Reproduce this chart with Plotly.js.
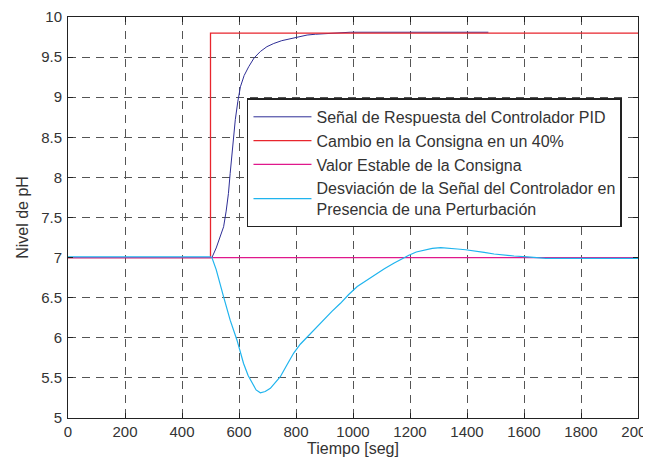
<!DOCTYPE html>
<html>
<head>
<meta charset="utf-8">
<script src="https://cdn.plot.ly/plotly-3.0.1.min.js"></script>
<style>
html,body{margin:0;padding:0;background:#fff;overflow:hidden;}
#chart{width:643px;height:462px;overflow:hidden;}
</style>
</head>
<body>
<div id="chart"></div>
<script>
// PID response (Señal de Respuesta del Controlador PID)
const pidT = [0, 500, 505, 520, 535, 546, 555, 563, 569, 575, 581, 587, 596, 605, 618, 634, 653, 675, 698, 722, 750, 780, 810, 839, 868, 897, 950, 990, 1475];
const pidY = [7, 7, 7.0, 7.12, 7.26, 7.385, 7.58, 7.8, 8.05, 8.3, 8.52, 8.72, 8.95, 9.13, 9.27, 9.38, 9.49, 9.57, 9.63, 9.67, 9.705, 9.73, 9.755, 9.775, 9.785, 9.79, 9.80, 9.81, 9.81];

// Setpoint step (Cambio en la Consigna en un 40%)
const stepT = [0, 500, 500, 2000];
const stepY = [7, 7, 9.8, 9.8];

// Steady setpoint (Valor Estable de la Consigna)
const baseT = [0, 2000];
const baseY = [7, 7];

// Disturbance response (Desviación ... Perturbación)
const distT = [0, 500, 505, 520, 546, 569, 593, 616, 632, 646, 660, 675, 692, 710, 727, 745, 768, 792, 815, 839, 868, 897, 926, 956, 985, 1015, 1044, 1073, 1110, 1143, 1170, 1196, 1222, 1249, 1278, 1308, 1336, 1366, 1395, 1425, 1460, 1495, 1530, 1565, 1612, 1677, 2000];
const distY = [7.01, 7.01, 7.0, 6.85, 6.51, 6.22, 5.97, 5.68, 5.53, 5.43, 5.35, 5.315, 5.33, 5.37, 5.44, 5.515, 5.66, 5.81, 5.92, 6.01, 6.12, 6.22, 6.33, 6.43, 6.54, 6.64, 6.71, 6.78, 6.86, 6.93, 6.985, 7.03, 7.07, 7.095, 7.115, 7.124, 7.12, 7.107, 7.098, 7.087, 7.065, 7.045, 7.03, 7.02, 7.01, 6.99, 6.99];

const xTicks = [0, 200, 400, 600, 800, 1000, 1200, 1400, 1600, 1800, 2000];
const yTicks = [5, 5.5, 6, 6.5, 7, 7.5, 8, 8.5, 9, 9.5, 10];

const names = [
  'Señal de Respuesta del Controlador PID',
  'Cambio en la Consigna en un 40%',
  'Valor Estable de la Consigna',
  'Desviación de la Señal del Controlador en<br>Presencia de una Perturbación'
];

const traces = [
  {x: pidT, y: pidY, name: names[0], mode: 'lines', line: {color: '#2e2e96', width: 1}},
  {x: stepT, y: stepY, name: names[1], mode: 'lines', line: {color: '#e8252d', width: 1.3}},
  {x: baseT, y: baseY, name: names[2], mode: 'lines', line: {color: '#e0188c', width: 1.3}},
  {x: distT, y: distY, name: names[3], mode: 'lines', line: {color: '#1fb4ee', width: 1.2}}
];

const FONT = 'Liberation Sans, Arial, sans-serif';

const axisCommon = {
  showline: true, linecolor: '#222', linewidth: 1, mirror: 'ticks',
  ticks: 'inside', ticklen: 5, tickcolor: '#222', tickwidth: 1,
  showgrid: true, gridcolor: '#555', gridwidth: 1, griddash: '8px,6px',
  zeroline: false, ticklabeloverflow: 'allow',
  tickfont: {family: FONT, size: 15, color: '#333'}
};

const layout = {
  width: 643, height: 462,
  margin: {l: 68, r: 5, t: 17, b: 44},
  paper_bgcolor: '#fff', plot_bgcolor: '#fff',
  font: {family: FONT, color: '#333'},
  showlegend: true,
  legend: {
    x: 0.314, y: 0.797, xanchor: 'left', yanchor: 'top',
    bgcolor: '#fff', bordercolor: '#222', borderwidth: 1.5,
    font: {family: FONT, size: 16, color: '#333'},
    tracegroupgap: 0, itemwidth: 58
  },
  xaxis: Object.assign({}, axisCommon, {
    range: [0, 2000], tickvals: xTicks, ticktext: xTicks.map(String),
    title: {text: 'Tiempo [seg]', font: {family: FONT, size: 16, color: '#333'}, standoff: 2}
  }),
  yaxis: Object.assign({}, axisCommon, {
    range: [5, 10], tickvals: yTicks, ticktext: yTicks.map(String),
    ticklabelstandoff: 2,
    title: {text: 'Nivel de pH', font: {family: FONT, size: 16, color: '#333'}, standoff: 8}
  })
};

Plotly.newPlot('chart', traces, layout, {displayModeBar: false, staticPlot: true});
</script>
</body>
</html>
